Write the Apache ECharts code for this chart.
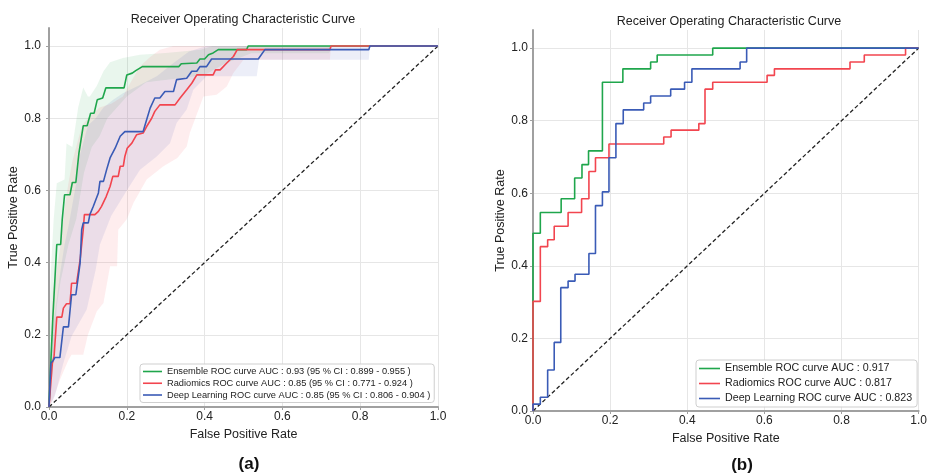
<!DOCTYPE html>
<html>
<head>
<meta charset="utf-8">
<title>ROC curves</title>
<script src="https://cdn.jsdelivr.net/npm/echarts@6/dist/echarts.min.js"></script>
<style>
  html, body { margin: 0; padding: 0; background: #fff; }
  #chart { width: 930px; height: 474px; }
</style>
</head>
<body>
<div id="chart"></div>
<script>
// ---------- Panel (a): mean ROC curves with 95 % CI bands ----------
const ensembleA = [[0,0],[0.005,0.13],[0.01,0.25],[0.02,0.45],[0.03,0.45],[0.034,0.519],[0.04,0.588],[0.054,0.588],[0.06,0.622],[0.069,0.622],[0.077,0.704],[0.088,0.779],[0.098,0.779],[0.107,0.814],[0.116,0.814],[0.124,0.851],[0.138,0.856],[0.146,0.884],[0.193,0.884],[0.2,0.92],[0.214,0.925],[0.223,0.932],[0.24,0.943],[0.334,0.943],[0.34,0.951],[0.38,0.953],[0.388,0.964],[0.40,0.964],[0.41,0.976],[0.422,0.981],[0.435,0.99],[0.508,0.99],[0.512,1.0],[1,1]];
const radiomicsA = [[0,0],[0.0085,0.12],[0.013,0.14],[0.02,0.249],[0.033,0.249],[0.037,0.274],[0.045,0.286],[0.054,0.286],[0.058,0.343],[0.071,0.343],[0.08,0.408],[0.088,0.491],[0.091,0.533],[0.118,0.533],[0.127,0.542],[0.135,0.556],[0.147,0.583],[0.157,0.611],[0.164,0.639],[0.178,0.639],[0.183,0.667],[0.191,0.667],[0.195,0.694],[0.201,0.717],[0.213,0.731],[0.225,0.754],[0.242,0.759],[0.251,0.777],[0.264,0.80],[0.272,0.819],[0.285,0.837],[0.324,0.837],[0.337,0.856],[0.354,0.879],[0.367,0.897],[0.38,0.92],[0.422,0.92],[0.428,0.934],[0.44,0.934],[0.457,0.953],[0.474,0.971],[0.484,0.99],[0.722,0.99],[0.725,1.0],[1,1]];
const deepA = [[0,0],[0.005,0.122],[0.011,0.129],[0.015,0.137],[0.028,0.137],[0.037,0.222],[0.05,0.222],[0.058,0.311],[0.069,0.311],[0.08,0.399],[0.084,0.491],[0.088,0.51],[0.101,0.51],[0.105,0.533],[0.114,0.556],[0.118,0.556],[0.127,0.593],[0.131,0.625],[0.14,0.625],[0.148,0.657],[0.157,0.69],[0.17,0.717],[0.183,0.75],[0.195,0.763],[0.242,0.763],[0.251,0.796],[0.26,0.828],[0.272,0.856],[0.285,0.856],[0.298,0.874],[0.32,0.874],[0.328,0.907],[0.354,0.911],[0.367,0.93],[0.38,0.93],[0.388,0.943],[0.405,0.943],[0.418,0.964],[0.538,0.964],[0.555,0.99],[0.822,0.99],[0.825,1.0],[1,1]];

const ensembleUpperA = [[0,0.22],[0.005,0.38],[0.012,0.52],[0.02,0.62],[0.04,0.63],[0.045,0.73],[0.06,0.72],[0.075,0.83],[0.088,0.885],[0.1,0.86],[0.105,0.86],[0.123,0.89],[0.14,0.93],[0.157,0.955],[0.19,0.967],[0.234,0.976],[0.3,0.981],[0.39,0.99],[0.42,1.0],[1,1]];
const ensembleLowerA = [[0,0],[0.01,0.1],[0.02,0.28],[0.03,0.35],[0.05,0.45],[0.07,0.52],[0.09,0.65],[0.11,0.72],[0.13,0.75],[0.15,0.8],[0.2,0.86],[0.25,0.9],[0.33,0.91],[0.4,0.92],[0.45,0.95],[0.52,0.98],[0.72,0.98],[0.73,1.0],[1,1]];
const radiomicsUpperA = [[0,0.05],[0.005,0.2],[0.01,0.32],[0.02,0.38],[0.03,0.45],[0.04,0.55],[0.05,0.62],[0.06,0.68],[0.07,0.72],[0.085,0.78],[0.1,0.8],[0.13,0.83],[0.16,0.84],[0.19,0.86],[0.21,0.9],[0.234,0.944],[0.26,0.97],[0.285,0.99],[0.32,1.0],[1,1]];
const radiomicsLowerA = [[0,0],[0.01,0.02],[0.03,0.08],[0.05,0.13],[0.058,0.145],[0.088,0.145],[0.1,0.2],[0.123,0.265],[0.14,0.288],[0.157,0.39],[0.175,0.39],[0.178,0.491],[0.2,0.52],[0.217,0.565],[0.251,0.63],[0.294,0.667],[0.33,0.69],[0.354,0.722],[0.362,0.759],[0.397,0.86],[0.431,0.865],[0.457,0.888],[0.474,0.925],[0.5,0.962],[0.722,0.962],[0.725,1.0],[1,1]];
const deepUpperA = [[0,0.02],[0.003,0.14],[0.01,0.22],[0.02,0.3],[0.03,0.38],[0.04,0.45],[0.05,0.5],[0.06,0.56],[0.07,0.62],[0.08,0.7],[0.09,0.74],[0.1,0.78],[0.12,0.8],[0.14,0.83],[0.165,0.851],[0.191,0.87],[0.23,0.89],[0.277,0.916],[0.32,0.953],[0.36,0.985],[0.405,1.0],[1,1]];
const deepLowerA = [[0,0],[0.015,0.03],[0.037,0.122],[0.058,0.196],[0.097,0.27],[0.12,0.38],[0.131,0.45],[0.16,0.53],[0.2,0.6],[0.234,0.657],[0.277,0.694],[0.311,0.731],[0.328,0.787],[0.354,0.824],[0.371,0.879],[0.405,0.916],[0.534,0.916],[0.54,0.962],[0.822,0.962],[0.825,1.0],[1,1]];

// ---------- Panel (b): ROC curves on the test set ----------
const ensembleB = [[0,0],[0,0.49],[0.019,0.49],[0.019,0.547],[0.073,0.547],[0.073,0.585],[0.108,0.585],[0.108,0.642],[0.127,0.642],[0.127,0.679],[0.144,0.679],[0.144,0.717],[0.18,0.717],[0.18,0.906],[0.233,0.906],[0.233,0.943],[0.305,0.943],[0.305,0.962],[0.322,0.962],[0.322,0.981],[0.466,0.981],[0.466,1.0],[1,1]];
const radiomicsB = [[0,0],[0,0.302],[0.019,0.302],[0.019,0.453],[0.038,0.453],[0.038,0.472],[0.055,0.472],[0.055,0.509],[0.091,0.509],[0.091,0.547],[0.126,0.547],[0.126,0.585],[0.145,0.585],[0.145,0.66],[0.162,0.66],[0.162,0.698],[0.197,0.698],[0.197,0.736],[0.339,0.736],[0.339,0.755],[0.358,0.755],[0.358,0.774],[0.43,0.774],[0.43,0.792],[0.446,0.792],[0.446,0.887],[0.466,0.887],[0.466,0.906],[0.607,0.906],[0.607,0.925],[0.626,0.925],[0.626,0.943],[0.822,0.943],[0.822,0.962],[0.859,0.962],[0.859,0.981],[0.966,0.981],[0.966,1.0],[1,1]];
const deepB = [[0,0],[0,0.019],[0.019,0.019],[0.019,0.038],[0.038,0.038],[0.038,0.113],[0.055,0.113],[0.055,0.189],[0.072,0.189],[0.072,0.340],[0.091,0.340],[0.091,0.358],[0.109,0.358],[0.109,0.377],[0.145,0.377],[0.145,0.434],[0.162,0.434],[0.162,0.566],[0.18,0.566],[0.18,0.604],[0.197,0.604],[0.197,0.698],[0.215,0.698],[0.215,0.792],[0.234,0.792],[0.234,0.830],[0.287,0.830],[0.287,0.849],[0.305,0.849],[0.305,0.868],[0.357,0.868],[0.357,0.887],[0.393,0.887],[0.393,0.906],[0.412,0.906],[0.412,0.943],[0.537,0.943],[0.537,0.962],[0.554,0.962],[0.554,1.0],[1,1]];

const chanceLine = [[0,0],[1,1]];
const tickValues = [0, 0.2, 0.4, 0.6, 0.8, 1.0];

const namesA = [
  'Ensemble ROC curve AUC : 0.93 (95 % CI : 0.899 - 0.955 )',
  'Radiomics ROC curve AUC : 0.85 (95 % CI : 0.771 - 0.924 )',
  'Deep Learning ROC curve AUC : 0.85 (95 % CI : 0.806 - 0.904 )'
];
const namesB = [
  'Ensemble ROC curve AUC : 0.917',
  'Radiomics ROC curve AUC : 0.817',
  'Deep Learning ROC curve AUC : 0.823'
];
const titleText = 'Receiver Operating Characteristic Curve';
const xName = 'False Positive Rate';
const yName = 'True Positive Rate';

const GREEN = '#1fa64c';
const RED = '#f2454f';
const BLUE = '#3a5bb6';
const FONT = '"Liberation Sans", Arial, sans-serif';

function xAxisFor(gridIndex) {
  return {
    type: 'value', gridIndex, min: 0, max: 1, interval: 0.2,
    name: xName, nameLocation: 'middle', nameGap: 16,
    nameTextStyle: { fontSize: 12.5, color: '#222', fontFamily: FONT },
    axisLine: { show: true, lineStyle: { color: '#a0a0a0', width: 2 } },
    axisTick: { show: true, length: 3, lineStyle: { color: '#a0a0a0' } },
    axisLabel: { fontSize: 12, color: '#222', margin: 4, fontFamily: FONT, formatter: v => v.toFixed(1) },
    splitLine: { show: true, lineStyle: { color: '#e6e6e6', width: 1 } }
  };
}
function yAxisFor(gridIndex, margin) {
  return {
    type: 'value', gridIndex, min: 0, max: 1.05,
    name: yName, nameLocation: 'middle', nameGap: 24, nameRotate: 90,
    nameTextStyle: { fontSize: 12.5, color: '#222', fontFamily: FONT },
    axisLine: { show: true, onZero: false, lineStyle: { color: '#a0a0a0', width: 2 } },
    axisTick: { show: true, length: 3, customValues: tickValues, lineStyle: { color: '#a0a0a0' } },
    axisLabel: { fontSize: 12, color: '#222', margin, fontFamily: FONT, customValues: tickValues, formatter: v => v.toFixed(1) },
    splitLine: { show: true, lineStyle: { color: '#e6e6e6', width: 1 } }
  };
}

function band(idx, upper, lower, fill) {
  return {
    type: 'custom', xAxisIndex: idx, yAxisIndex: idx, silent: true, z: 1,
    data: [[0, 0]],
    renderItem: (params, api) => {
      const pts = upper.map(p => api.coord(p))
        .concat(lower.slice().reverse().map(p => api.coord(p)));
      return { type: 'polygon', shape: { points: pts }, style: { fill } };
    }
  };
}
function curve(idx, name, data, color) {
  return {
    type: 'line', name, xAxisIndex: idx, yAxisIndex: idx, data,
    symbol: 'none', z: 3, animation: false,
    lineStyle: { color, width: 1.6 }, itemStyle: { color }
  };
}
function chance(idx) {
  return {
    type: 'line', xAxisIndex: idx, yAxisIndex: idx, data: chanceLine, symbol: 'none', z: 2,
    lineStyle: { color: '#222', width: 1.3, type: [4, 2.5] }, silent: true
  };
}
// legend swatches are short flat bars, like plain line handles
function legendFor(names, left, top, fontSize, itemWidth, itemGap, padding) {
  return {
    data: names, orient: 'vertical', left, top, itemWidth, itemHeight: 1.6, itemGap, padding,
    icon: 'rect',
    borderColor: '#cfcfcf', borderWidth: 1, borderRadius: 3,
    backgroundColor: 'rgba(255,255,255,0.85)', selectedMode: false,
    textStyle: { fontSize, color: '#222', fontFamily: FONT }
  };
}

const chart = echarts.init(document.getElementById('chart'), null, { renderer: 'canvas' });
chart.setOption({
  animation: false,
  backgroundColor: '#fff',
  grid: [
    { left: 49, right: 492, top: 28, bottom: 67 },
    { left: 533, right: 7, top: 30, bottom: 63 }
  ],
  xAxis: [xAxisFor(0), xAxisFor(1)],
  yAxis: [yAxisFor(0, 8), yAxisFor(1, 5)],
  legend: [
    legendFor(namesA, 140, 364, 9.25, 19, 2.75, [3, 4, 3, 3]),
    legendFor(namesB, 696, 360, 10.7, 21, 4, [3, 5, 3, 3])
  ],
  graphic: [
    { type: 'text', x: 243, y: 20, style: { text: titleText, fontSize: 12.5, fontFamily: FONT, fill: '#222', textAlign: 'center', textVerticalAlign: 'middle' } },
    { type: 'text', x: 729, y: 22, style: { text: titleText, fontSize: 12.5, fontFamily: FONT, fill: '#222', textAlign: 'center', textVerticalAlign: 'middle' } },
    { type: 'text', x: 249, y: 464, style: { text: '(a)', fontSize: 17, fontWeight: 'bold', fontFamily: FONT, fill: '#111', textAlign: 'center', textVerticalAlign: 'middle' } },
    { type: 'text', x: 742, y: 465, style: { text: '(b)', fontSize: 17, fontWeight: 'bold', fontFamily: FONT, fill: '#111', textAlign: 'center', textVerticalAlign: 'middle' } }
  ],
  series: [
    band(0, ensembleUpperA, ensembleLowerA, 'rgba(40,165,80,0.10)'),
    band(0, radiomicsUpperA, radiomicsLowerA, 'rgba(242,80,90,0.10)'),
    band(0, deepUpperA, deepLowerA, 'rgba(70,90,190,0.10)'),
    chance(0),
    curve(0, namesA[0], ensembleA, GREEN),
    curve(0, namesA[1], radiomicsA, RED),
    curve(0, namesA[2], deepA, BLUE),
    chance(1),
    curve(1, namesB[0], ensembleB, GREEN),
    curve(1, namesB[1], radiomicsB, RED),
    curve(1, namesB[2], deepB, BLUE)
  ]
});
</script>
</body>
</html>
